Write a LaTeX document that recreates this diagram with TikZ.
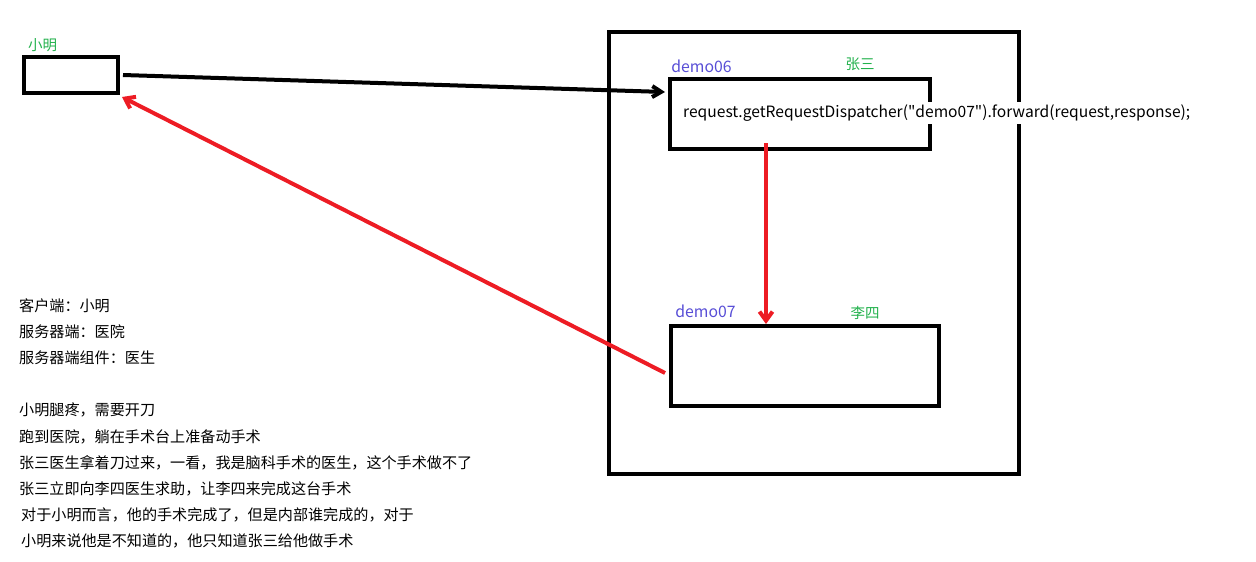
\documentclass[tikz,border=0pt]{standalone}
\usepackage{fontspec}
\setmainfont{Noto Sans CJK SC}
\usepackage{xcolor}
\usepackage{tikz}
\usetikzlibrary{arrows.meta,positioning}
\definecolor{paintred}{RGB}{237,28,36}
\definecolor{paintgreen}{RGB}{34,177,76}
\definecolor{demoblue}{RGB}{88,78,214}

\begin{document}
\begin{tikzpicture}[x=1pt, y=-1pt,
  box/.style={draw, line width=4pt, inner sep=0pt},
  person/.style={font=\fontsize{14.5}{16}\selectfont, text=paintgreen, inner sep=0pt},
  demo/.style={font=\fontsize{15.8}{16}\selectfont, text=demoblue, inner sep=0pt},
  arr/.style={-{Straight Barb[length=9pt, width=11pt]}, line width=4pt},
  redarr/.style={-{Straight Barb[length=9pt, width=13pt]}, line width=4pt, draw=paintred}
]
\useasboundingbox (0,0) rectangle (1256,562);

% client and server
\node[box, minimum width=94pt, minimum height=36pt] (client) at (71,75) {};
\node[box, minimum width=410pt, minimum height=442pt] (server) at (814,253) {};
\node[box, minimum width=260pt, minimum height=70pt] (demo06) at (800,114) {};
\node[box, minimum width=268pt, minimum height=80pt] (demo07) at (805,366) {};

\node[person] (xm) at (42.5,45) {小明};
\node[demo] (d06) at (701.5,66) {demo06};
\node[person] (zs) at (860,64) {张三};
\node[demo] (d07) at (705.5,311) {demo07};
\node[person] (ls) at (865,313) {李四};

\node[fill=white, inner xsep=1pt, inner ysep=3pt, anchor=west,
      font=\fontsize{15.6}{16}\selectfont] (code) at (682,113)
  {request.getRequestDispatcher(\textquotedbl demo07\textquotedbl).forward(request,response);};

% connectors
\draw[arr] ([xshift=3pt]client.east) -- ([yshift=22pt, xshift=-3pt]demo06.west);
\draw[redarr, shorten <=-8pt] ([xshift=-34pt]demo06.south) -- ([xshift=-39pt]demo07.north);
\draw[redarr] ([yshift=-7pt, xshift=-4pt]demo07.west) -- ([xshift=2pt, yshift=-2pt]client.south east);

% notes
\node[anchor=north west, align=left, inner sep=0pt,
      font=\fontsize{15.1}{26.2}\selectfont] (notes) at (19,298)
  {客户端：小明\\
   服务器端：医院\\
   服务器端组件：医生\\[26.2pt]
   小明腿疼，需要开刀\\
   跑到医院，躺在手术台上准备动手术\\
   张三医生拿着刀过来，一看，我是脑科手术的医生，这个手术做不了\\
   张三立即向李四医生求助，让李四来完成这台手术\\
   \hspace{2pt}对于小明而言，他的手术完成了，但是内部谁完成的，对于\\
   \hspace{2pt}小明来说他是不知道的，他只知道张三给他做手术};
\end{tikzpicture}
\end{document}
